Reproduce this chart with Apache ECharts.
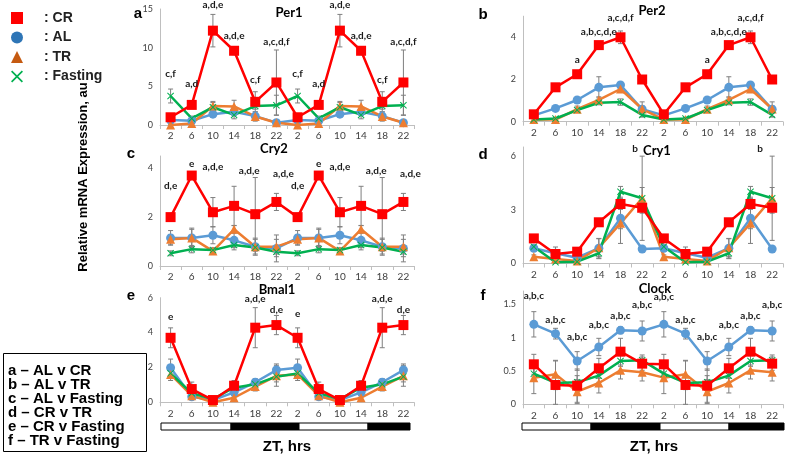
<!DOCTYPE html>
<html><head><meta charset="utf-8">
<script src="https://cdn.jsdelivr.net/npm/echarts@6/dist/echarts.min.js"></script>
<style>html,body{margin:0;padding:0;background:#fff}#c{width:787px;height:458px}</style>
</head><body><div id="c"></div>
<script>
// ---------- categories ----------
const ztLabels = ['2','6','10','14','18','22','2','6','10','14','18','22'];

// ---------- Per1 (a) ----------
const per1CR = [1.0,2.6,12.2,9.6,3.0,5.5,1.0,2.6,12.2,9.6,3.0,5.5];
const per1AL = [0.65,0.55,1.4,1.7,1.15,0.3,0.65,0.55,1.4,1.7,1.15,0.3];
const per1TR = [0.0,0.2,2.45,2.4,1.1,0.3,0.0,0.2,2.45,2.4,1.1,0.3];
const per1F  = [3.75,0.85,2.3,1.3,2.45,2.55,3.75,0.85,2.3,1.3,2.45,2.55];
const per1CRe = [0.3,0.5,2.1,0.5,1.3,4.2,0.3,0.5,2.1,0.5,1.3,4.2];
const per1ALe = [0.2,0.2,0.3,0.5,0.3,0.1,0.2,0.2,0.3,0.5,0.3,0.1];
const per1TRe = [0.1,0.2,0.6,0.8,0.6,0.1,0.1,0.2,0.6,0.8,0.6,0.1];
const per1Fe  = [0.9,0.3,0.6,0.5,0.4,1.3,0.9,0.3,0.6,0.5,0.4,1.3];
const per1Ann = [[0,6.6,'c,f'],[1,5.3,'a,d'],[2,15.5,'a,d,e'],[3,11.6,'a,d,e'],[4,5.9,'c,f'],[5,10.8,'a,c,d,f'],
                 [6,6.6,'c,f'],[7,5.3,'a,d'],[8,15.5,'a,d,e'],[9,11.6,'a,d,e'],[10,5.9,'c,f'],[11,10.8,'a,c,d,f']];

// ---------- Per2 (b) ----------
const per2CR = [0.35,1.63,2.25,3.63,4.0,2.0,0.35,1.63,2.25,3.63,4.0,2.0];
const per2AL = [0.3,0.63,1.03,1.63,1.74,0.59,0.3,0.63,1.03,1.63,1.74,0.59];
const per2TR = [0.1,0.1,0.59,1.03,1.55,0.6,0.1,0.1,0.59,1.03,1.55,0.6];
const per2F  = [0.1,0.15,0.55,0.9,0.93,0.32,0.1,0.15,0.55,0.9,0.93,0.32];
const per2CRe = [0.05,0.1,0.1,0.1,0.3,0.1,0.05,0.1,0.1,0.1,0.3,0.1];
const per2ALe = [0.05,0.1,0.1,0.5,0.1,0.35,0.05,0.1,0.1,0.5,0.1,0.35];
const per2TRe = [0.05,0.05,0.15,0.15,0.15,0.15,0.05,0.05,0.15,0.15,0.15,0.15];
const per2Fe  = [0.05,0.05,0.1,0.1,0.15,0.1,0.05,0.05,0.1,0.1,0.15,0.1];
const per2Ann = [[2,2.92,'a'],[3,4.28,'a,b,c,d,e'],[4,4.93,'a,c,d,f'],[8,2.92,'a'],[9,4.28,'a,b,c,d,e'],[10,4.93,'a,c,d,f']];

// ---------- Cry2 (c) ----------
const cry2CR = [2.0,3.7,2.2,2.46,2.12,2.62,2.0,3.7,2.2,2.46,2.12,2.62];
const cry2AL = [1.15,1.15,1.26,1.05,0.79,0.72,1.15,1.15,1.26,1.05,0.79,0.72];
const cry2TR = [1.09,1.15,0.61,1.5,0.79,0.79,1.09,1.15,0.61,1.5,0.79,0.79];
const cry2F  = [0.52,0.69,0.65,0.86,0.76,0.58,0.52,0.69,0.65,0.86,0.76,0.58];
const cry2CRe = [0.15,0.05,0.6,0.8,1.5,0.35,0.15,0.05,0.6,0.8,1.5,0.35];
const cry2ALe = [0.3,0.4,0.35,0.3,0.35,0.55,0.3,0.4,0.35,0.3,0.35,0.55];
const cry2TRe = [0.2,0.35,0.1,0.15,0.3,0.3,0.2,0.35,0.1,0.15,0.3,0.3];
const cry2Fe  = [0.1,0.15,0.1,0.2,0.15,0.2,0.1,0.15,0.1,0.2,0.15,0.2];
const cry2Ann = [[0,3.28,'d,e'],[1,4.2,'e'],[2,4.06,'a,d,e'],[4,3.9,'a,d,e',-6],[5,3.76,'a,d,e',7],
                 [6,3.28,'d,e'],[7,4.2,'e'],[8,4.06,'a,d,e'],[10,3.9,'a,d,e',-6],[11,3.76,'a,d,e',7]];

// ---------- Cry1 (d) ----------
const cry1CR = [1.4,0.53,0.66,2.3,3.32,3.11,1.4,0.53,0.66,2.3,3.32,3.11];
const cry1AL = [0.85,0.57,0.32,0.85,2.52,0.81,0.85,0.57,0.32,0.85,2.52,0.81];
const cry1TR = [0.38,0.25,0.14,0.88,2.24,3.64,0.38,0.25,0.14,0.88,2.24,3.64];
const cry1F  = [0.94,0.07,0.1,0.57,4.0,3.64,0.94,0.07,0.1,0.57,4.0,3.64];
const cry1CRe = [0.15,0.1,0.1,0.2,0.3,0.3,0.15,0.1,0.1,0.2,0.3,0.3];
const cry1ALe = [0.15,0.35,0.15,0.55,1.4,0.1,0.15,0.35,0.15,0.55,1.4,0.1];
const cry1TRe = [0.1,0.1,0.05,0.5,0.3,2.35,0.1,0.1,0.05,0.5,0.3,2.35];
const cry1Fe  = [0.1,0.05,0.05,0.3,0.3,0.6,0.1,0.05,0.05,0.3,0.3,0.6];
const cry1Ann = [[5,6.42,'b',-7],[11,6.42,'b',-12]];

// ---------- Bmal1 (e) ----------
const bmalCR = [3.7,0.76,0.13,0.95,4.28,4.43,3.7,0.76,0.13,0.95,4.28,4.43];
const bmalAL = [1.98,0.32,0.13,0.57,1.15,1.85,1.98,0.32,0.13,0.57,1.15,1.85];
const bmalTR = [1.6,0.38,0.0,0.26,0.9,1.52,1.6,0.38,0.0,0.26,0.9,1.52];
const bmalF  = [1.66,0.52,0.19,0.84,1.03,1.47,1.66,0.52,0.19,0.84,1.03,1.47];
const bmalCRe = [0.57,0.4,0.1,0.3,1.15,0.55,0.57,0.4,0.1,0.3,1.15,0.55];
const bmalALe = [0.5,0.1,0.05,0.2,0.2,0.35,0.5,0.1,0.05,0.2,0.2,0.35];
const bmalTRe = [0.35,0.1,0.05,0.1,0.25,0.6,0.35,0.1,0.05,0.1,0.25,0.6];
const bmalFe  = [0.3,0.1,0.05,0.15,0.2,0.3,0.3,0.1,0.05,0.15,0.2,0.3];
const bmalAnn = [[0,4.9,'e'],[4,5.96,'a,d,e'],[5,5.33,'d,e'],[6,5.1,'e'],[10,5.96,'a,d,e'],[11,5.33,'d,e']];

// ---------- Clock (f) ----------
const clockCR = [0.6,0.29,0.28,0.54,0.79,0.61,0.6,0.29,0.28,0.54,0.79,0.61];
const clockAL = [1.2,1.06,0.65,0.86,1.11,1.1,1.2,1.06,0.65,0.86,1.11,1.1];
const clockTR = [0.4,0.45,0.19,0.32,0.51,0.48,0.4,0.45,0.19,0.32,0.51,0.48];
const clockF  = [0.46,0.32,0.33,0.43,0.65,0.66,0.46,0.32,0.33,0.43,0.65,0.66];
const clockCRe = [0.15,0.37,0.25,0.15,0.2,0.1,0.15,0.37,0.25,0.15,0.2,0.1];
const clockALe = [0.19,0.08,0.14,0.13,0.05,0.15,0.19,0.08,0.14,0.13,0.05,0.15];
const clockTRe = [0.24,0.2,0.18,0.15,0.13,0.13,0.24,0.2,0.18,0.15,0.13,0.13];
const clockFe  = [0.1,0.1,0.1,0.1,0.08,0.08,0.1,0.1,0.1,0.1,0.08,0.08];
const clockAnn = [[0,1.63,'a,b,c'],[1,1.27,'a,b,c'],[2,1.01,'a,b,c'],[3,1.2,'a,b,c'],[4,1.33,'a,b,c'],[5,1.49,'a,b,c'],
                  [6,1.61,'a,b,c'],[7,1.27,'a,b,c'],[8,1.01,'a,b,c'],[9,1.2,'a,b,c'],[10,1.33,'a,b,c'],[11,1.49,'a,b,c']];

const groupNames = [': CR', ': AL', ': TR', ': Fasting'];
const contrastLegend = ['a \u2013 AL v CR','b \u2013 AL v TR','c \u2013 AL v Fasting','d \u2013 CR v TR','e \u2013 CR v Fasting','f \u2013 TR v Fasting'];

// ---------- styling / layout ----------
const COL = {CR:'#FF0000', AL:'#5B9BD5', TR:'#ED7D31', F:'#00B050'};
const XMARK = 'path://M1,0L5,4L9,0L10,1L6,5L10,9L9,10L5,6L1,10L0,9L4,5L0,1Z';
const SYM = {CR:['rect',10], AL:['circle',9], TR:['triangle',9], F:[XMARK,7]};
const NAME = {CR:groupNames[0], AL:groupNames[1], TR:groupNames[2], F:groupNames[3]};

const panels = [
 {letter:'a', title:'Per1', grid:{left:160,top:9,width:254,height:116}, max:15, interval:5,
  v:{AL:per1AL,TR:per1TR,F:per1F,CR:per1CR}, e:{AL:per1ALe,TR:per1TRe,F:per1Fe,CR:per1CRe}, ann:per1Ann, tpos:[289,13], lpos:[138,14]},
 {letter:'b', title:'Per2', grid:{left:523,top:16.2,width:260,height:105.5}, max:5, interval:2,
  v:{AL:per2AL,TR:per2TR,F:per2F,CR:per2CR}, e:{AL:per2ALe,TR:per2TRe,F:per2Fe,CR:per2CRe}, ann:per2Ann, tpos:[652,11], lpos:[483,15]},
 {letter:'c', title:'Cry2', grid:{left:160,top:156,width:254,height:110}, max:4.5, interval:2,
  v:{AL:cry2AL,TR:cry2TR,F:cry2F,CR:cry2CR}, e:{AL:cry2ALe,TR:cry2TRe,F:cry2Fe,CR:cry2CRe}, ann:cry2Ann, tpos:[274,149], lpos:[131,154]},
 {letter:'d', title:'Cry1', grid:{left:523,top:147,width:260,height:116.5}, max:6.5, interval:3,
  v:{AL:cry1AL,TR:cry1TR,F:cry1F,CR:cry1CR}, e:{AL:cry1ALe,TR:cry1TRe,F:cry1Fe,CR:cry1CRe}, ann:cry1Ann, tpos:[657,151], lpos:[483,155]},
 {letter:'e', title:'Bmal1', grid:{left:160,top:297.7,width:254,height:104.6}, max:6, interval:2,
  v:{AL:bmalAL,TR:bmalTR,F:bmalF,CR:bmalCR}, e:{AL:bmalALe,TR:bmalTRe,F:bmalFe,CR:bmalCRe}, ann:bmalAnn, tpos:[277,290], lpos:[131,296]},
 {letter:'f', title:'Clock', grid:{left:523,top:291,width:260,height:113.3}, max:1.7, interval:0.5,
  v:{AL:clockAL,TR:clockTR,F:clockF,CR:clockCR}, e:{AL:clockALe,TR:clockTRe,F:clockFe,CR:clockCRe}, ann:clockAnn, tpos:[655,289], lpos:[483,296]}
];

const FONT = 'Lato';
const grids = [], xAxes = [], yAxes = [], series = [];
panels.forEach((p, i) => {
  grids.push(Object.assign({}, p.grid));
  xAxes.push({type:'category', gridIndex:i, data:ztLabels, boundaryGap:true,
    axisLine:{lineStyle:{color:'#BFBFBF', width:1}},
    axisTick:{show:true, length:4, lineStyle:{color:'#BFBFBF'}},
    axisLabel:{interval:0, color:'#404040', fontSize:10, fontFamily:FONT, margin:6}});
  const iv = p.interval;
  yAxes.push({type:'value', gridIndex:i, min:0, max:p.max, interval:iv,
    splitLine:{show:false},
    axisLine:{show:true, lineStyle:{color:'#BFBFBF'}},
    axisTick:{show:false},
    axisLabel:{color:'#404040', fontSize:9, fontFamily:FONT, margin:7,
      formatter: v => (Math.abs(v/iv - Math.round(v/iv)) < 1e-6 ? String(+v.toFixed(2)) : '')}});
  ['AL','TR','F','CR'].forEach(k => {
    const vals = p.v[k], errs = p.e[k];
    series.push({type:'custom', xAxisIndex:i, yAxisIndex:i, silent:true, z:1, animation:false,
      data: vals.map((m, j) => [j, m - errs[j], m + errs[j]]),
      renderItem: (params, api) => {
        const x = api.value(0);
        const lo = Math.max(0, api.value(1)), hi = api.value(2);
        const a = api.coord([x, hi]), b = api.coord([x, lo]);
        const s = {stroke:'#7F7F7F', lineWidth:1};
        return {type:'group', children:[
          {type:'line', shape:{x1:a[0], y1:a[1], x2:b[0], y2:b[1]}, style:s},
          {type:'line', shape:{x1:a[0]-2.5, y1:a[1], x2:a[0]+2.5, y2:a[1]}, style:s},
          {type:'line', shape:{x1:b[0]-2.5, y1:b[1], x2:b[0]+2.5, y2:b[1]}, style:s}
        ]};
      }});
  });
  ['AL','TR','F','CR'].forEach(k => {
    series.push({type:'line', name:NAME[k], xAxisIndex:i, yAxisIndex:i, data:p.v[k],
      symbol:SYM[k][0], symbolSize:SYM[k][1], showSymbol:true, z:3, animation:false,
      lineStyle:{width:2.5, color:COL[k]}, itemStyle:{color:COL[k], opacity:1}});
  });
  const ann = p.ann;
  series.push({type:'custom', xAxisIndex:i, yAxisIndex:i, silent:true, z:5, clip:false, animation:false,
    data: ann.map(a => [a[0], a[1]]),
    renderItem: (params, api) => {
      const c = api.coord([api.value(0), api.value(1)]);
      const dx = ann[params.dataIndex][3] || 0;
      return {type:'text', x:c[0] + dx, y:c[1],
        style:{text: ann[params.dataIndex][2], textAlign:'center', textVerticalAlign:'middle',
          font:'bold 10px ' + FONT, fill:'#1a1a1a'}};
    }});
});

const graphics = [];
panels.forEach(p => {
  graphics.push({type:'text', x:p.tpos[0], y:p.tpos[1], silent:true,
    style:{text:p.title, textAlign:'center', textVerticalAlign:'middle', font:'bold 13px ' + FONT, fill:'#000'}});
  graphics.push({type:'text', x:p.lpos[0], y:p.lpos[1], silent:true,
    style:{text:p.letter, textAlign:'center', textVerticalAlign:'middle', font:'bold 15px "Liberation Sans"', fill:'#000'}});
});
graphics.push({type:'text', x:83, y:177, rotation:Math.PI/2, silent:true,
  style:{text:'Relative mRNA Expression, au', textAlign:'center', textVerticalAlign:'middle', font:'bold 13px "Liberation Sans"', fill:'#000'}});
graphics.push({type:'rect', shape:{x:3.5, y:353.5, width:143, height:98}, silent:true, style:{fill:'#fff', stroke:'#000', lineWidth:1}});
contrastLegend.forEach((t, j) => {
  graphics.push({type:'text', x:8, y:371 + j*14, silent:true,
    style:{text:t, textAlign:'left', textVerticalAlign:'middle', font:'bold 15px "Liberation Sans"', fill:'#000'}});
});
// light/dark bars
[[161,231,299,368,410],[522,591,660,729,784]].forEach(b => {
  for (let s = 0; s < 4; s++) {
    graphics.push({type:'rect', silent:true, shape:{x:b[s], y:423, width:b[s+1]-b[s], height:7},
      style:{fill: s % 2 ? '#000' : '#fff', stroke:'#000', lineWidth:1}});
  }
});
graphics.push({type:'text', x:287, y:447, silent:true, style:{text:'ZT, hrs', textAlign:'center', textVerticalAlign:'middle', font:'bold 15px "Liberation Sans"', fill:'#000'}});
graphics.push({type:'text', x:654, y:447, silent:true, style:{text:'ZT, hrs', textAlign:'center', textVerticalAlign:'middle', font:'bold 15px "Liberation Sans"', fill:'#000'}});

const chart = echarts.init(document.getElementById('c'), null, {renderer:'canvas'});
chart.setOption({
  animation:false,
  backgroundColor:'#fff',
  legend:{orient:'vertical', left:6, top:6, itemWidth:12, itemHeight:12, itemGap:5.5, selectedMode:false,
    textStyle:{fontFamily:'Liberation Sans', fontWeight:'bold', fontSize:14, color:'#222', padding:[0,0,0,16]},
    data:[
      {name:groupNames[0], icon:'rect', itemStyle:{color:'#FF0000'}},
      {name:groupNames[1], icon:'circle', itemStyle:{color:'#2E75B6'}},
      {name:groupNames[2], icon:'triangle', itemStyle:{color:'#C55A11'}},
      {name:groupNames[3], icon:XMARK, itemStyle:{color:'#00B050'}}
    ]},
  grid:grids, xAxis:xAxes, yAxis:yAxes, series:series, graphic:graphics
});
</script></body></html>
